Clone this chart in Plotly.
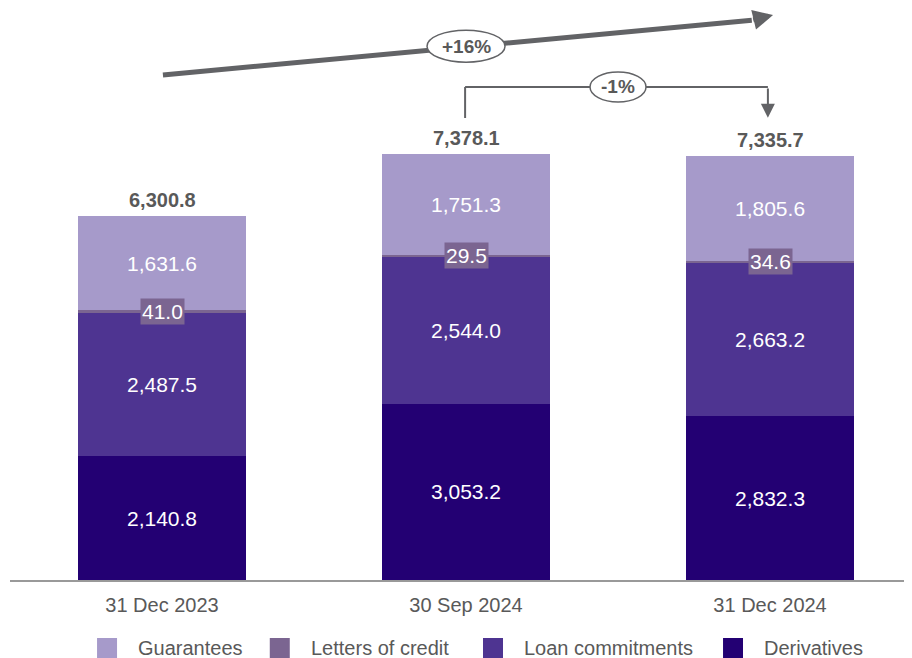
import plotly.graph_objects as go

# -----------------------
# Data
# -----------------------
periods = ["31 Dec 2023", "30 Sep 2024", "31 Dec 2024"]
derivatives = [2140.8, 3053.2, 2832.3]
loan_commitments = [2487.5, 2544.0, 2663.2]
letters_of_credit = [41.0, 29.5, 34.6]
guarantees = [1631.6, 1751.3, 1805.6]
totals = [6300.8, 7378.1, 7335.7]

series_names = ["Derivatives", "Loan commitments", "Letters of credit", "Guarantees"]
series_colors = ["#230073", "#4E3491", "#7B6591", "#A69ACA"]

growth_total = "+16%"
growth_quarter = "-1%"

GREY = "#595959"
ARROW = "#626366"
FONT = "Liberation Sans, Arial, sans-serif"

# -----------------------
# Bars
# -----------------------
fig = go.Figure()
all_series = [derivatives, loan_commitments, letters_of_credit, guarantees]
for name, vals, col in zip(series_names, all_series, series_colors):
    show_text = name != "Letters of credit"
    fig.add_bar(
        x=periods,
        y=vals,
        name=name,
        marker=dict(color=col, line=dict(width=0)),
        text=[f"{v:,.1f}" for v in vals] if show_text else None,
        textposition="inside" if show_text else "none",
        insidetextanchor="middle",
        textfont=dict(color="white", size=21, family=FONT),
        showlegend=False,
        hoverinfo="skip",
    )

# small boxed labels for letters of credit
for p, d, l, c in zip(periods, derivatives, loan_commitments, letters_of_credit):
    fig.add_annotation(
        x=p, y=d + l + c / 2, text=f"{c:,.1f}", showarrow=False,
        font=dict(color="white", size=21, family=FONT),
        bgcolor="#7B6591", borderpad=1,
    )

# totals above each bar
for p, t in zip(periods, totals):
    fig.add_annotation(
        x=p, y=t, text=f"<b>{t:,.1f}</b>", showarrow=False,
        yanchor="bottom", yshift=3,
        font=dict(color=GREY, size=20, family=FONT),
    )

# -----------------------
# Growth arrows
# -----------------------
# long arrow (+16%)
fig.add_shape(type="line", x0=0.003, y0=8741, x1=1.94, y1=9690,
              line=dict(color=ARROW, width=5))
fig.add_annotation(x=2.01, y=9780, ax=1.94, ay=9690, axref="x", ayref="y",
                   xref="x", yref="y", text="", showarrow=True,
                   arrowhead=2, arrowsize=0.8, arrowwidth=5, arrowcolor=ARROW)
fig.add_shape(type="circle", xref="x", yref="y", xsizemode="pixel", ysizemode="pixel",
              xanchor=1.0, yanchor=9240, x0=-39, x1=39, y0=-16, y1=16,
              fillcolor="white", line=dict(color=ARROW, width=1.5))
fig.add_annotation(x=1.0, y=9240, text=f"<b>{growth_total}</b>", showarrow=False,
                   font=dict(color=GREY, size=19, family=FONT))

# bracket arrow (-1%)
fig.add_shape(type="line", x0=0.997, y0=7997, x1=0.997, y1=8534,
              line=dict(color=ARROW, width=2))
fig.add_shape(type="line", x0=0.997, y0=8534, x1=1.993, y1=8534,
              line=dict(color=ARROW, width=2))
fig.add_annotation(x=1.993, y=8000, ax=1.993, ay=8534, axref="x", ayref="y",
                   xref="x", yref="y", text="", showarrow=True,
                   arrowhead=2, arrowsize=1.4, arrowwidth=2, arrowcolor=ARROW)
fig.add_shape(type="circle", xref="x", yref="y", xsizemode="pixel", ysizemode="pixel",
              xanchor=1.5, yanchor=8534, x0=-28, x1=28, y0=-15, y1=15,
              fillcolor="white", line=dict(color=ARROW, width=1.5))
fig.add_annotation(x=1.5, y=8534, text=f"<b>{growth_quarter}</b>", showarrow=False,
                   font=dict(color=GREY, size=19, family=FONT))

# -----------------------
# Legend (drawn manually for large square swatches)
# -----------------------
legend_names = ["Guarantees", "Letters of credit", "Loan commitments", "Derivatives"]
legend_colors = ["#A69ACA", "#7B6591", "#4E3491", "#230073"]
legend_x = [0.0965, 0.288, 0.5244, 0.7905]
LEG_Y = -0.1189
for name, col, lx in zip(legend_names, legend_colors, legend_x):
    fig.add_shape(type="rect", xref="paper", yref="paper",
                  xsizemode="pixel", ysizemode="pixel",
                  xanchor=lx, yanchor=LEG_Y, x0=0, x1=20, y0=-10, y1=10,
                  fillcolor=col, line=dict(width=0))
    fig.add_annotation(xref="paper", yref="paper", x=lx, y=LEG_Y, xshift=39,
                       text=name, showarrow=False, xanchor="left", yanchor="middle",
                       font=dict(color=GREY, size=20, family=FONT))

# page body has an 8px margin, so the figure is a little smaller than the window
fig.update_layout(
    barmode="stack",
    bargap=0.447,
    width=904,
    height=650,
    margin=dict(l=2, r=0, t=0, b=78),
    plot_bgcolor="white",
    paper_bgcolor="white",
    showlegend=False,
    font=dict(family=FONT, color=GREY),
    xaxis=dict(
        range=[-0.5, 2.467],
        showline=True, linecolor="#999999", linewidth=2,
        showgrid=False, ticks="", ticklabelstandoff=6,
        tickfont=dict(size=20, color=GREY, family=FONT),
    ),
    yaxis=dict(range=[0, 9901], visible=False),
)

fig.write_html("out.html")
